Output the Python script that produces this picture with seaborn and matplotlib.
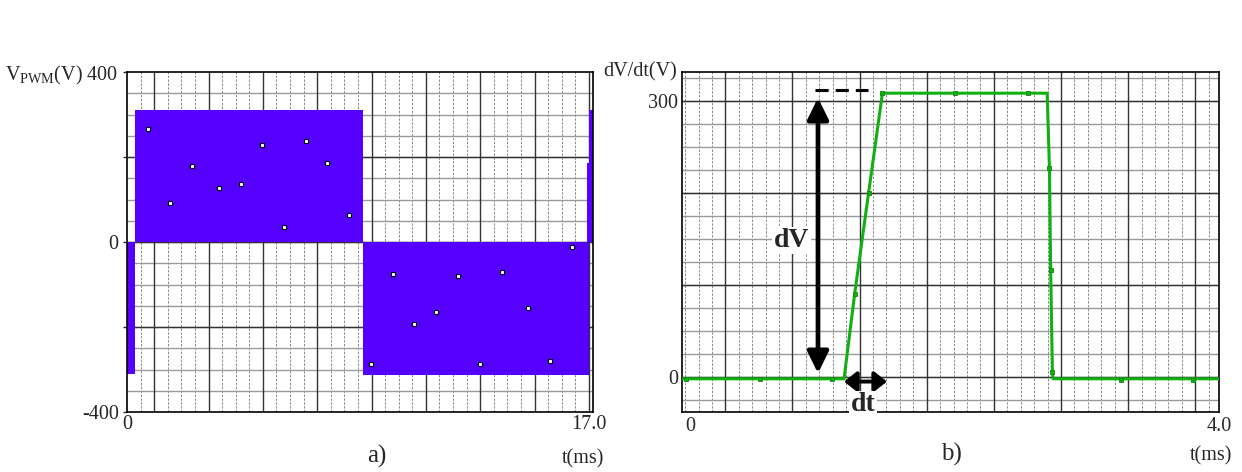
import numpy as np
import matplotlib
matplotlib.use("Agg")
import matplotlib.pyplot as plt
import seaborn as sns


# panel a) PWM output voltage, drawn as filled switching blocks (t in ms, V)
pwm_t_start = [0.0, 0.29, 8.67, 16.92, 16.99]
pwm_t_end = [0.29, 8.67, 16.99, 16.99, 17.15]
pwm_low = [-310, 0, -313, 0, 0]
pwm_high = [0, 310, 0, 186, 310]

# white simulation markers inside the PWM blocks
pwm_mark_t = [0.78, 1.58, 2.40, 3.39, 4.18, 4.96, 5.77, 6.58, 7.37, 8.17,
              8.98, 9.79, 10.57, 11.36, 12.18, 12.99, 13.79, 14.77, 15.58, 16.39]
pwm_mark_v = [266, 91, 180, 126, 136, 228, 35, 237, 185, 63,
              -286, -76, -194, -164, -80, -286, -70, -155, -279, -12]

# panel b) one switching edge
dvdt_t = [0.0, 1.207, 1.286, 1.39, 1.493, 2.72, 2.737, 2.746, 2.759, 2.764, 4.0]
dvdt_v = [-2, -2, 90, 200, 308, 308, 227, 116, 5, -2, -2]
dvdt_mark_t = [0.033, 0.579, 1.12, 1.286, 1.39, 1.493, 2.036, 2.575, 2.737, 2.746, 2.759, 3.268, 3.806]
dvdt_mark_v = [-2, -2, -2, 90, 200, 308, 308, 308, 227, 116, 5, -3, -3]

# annotation anchors in panel b)
dv_t, dv_from, dv_to = 1.013, 4, 303
dt_from, dt_to, dt_v = 1.207, 1.527, -5
dash_t0, dash_t1, dash_v = 0.988, 1.385, 311

BLUE = "#5500ff"
GREEN = "#11b011"

sns.set_style("white")
plt.rcParams["font.family"] = ["Liberation Serif", "DejaVu Serif"]
plt.rcParams["mathtext.fontset"] = "custom"
plt.rcParams["mathtext.rm"] = "Liberation Serif"
plt.rcParams["mathtext.it"] = "Liberation Serif:italic"


def draw_grid(ax, minor_x, major_x, minor_y, major_y, xlim, ylim):
	ax.vlines(minor_x, ylim[0], ylim[1], color="#8a8a8a", lw=0.7, linestyles=(0, (2.5, 1.5)), zorder=0)
	ax.hlines(minor_y, xlim[0], xlim[1], color="#999999", lw=1.0, zorder=0)
	ax.vlines(major_x, ylim[0], ylim[1], color="#333333", lw=1.0, zorder=0)
	ax.hlines(major_y, xlim[0], xlim[1], color="#333333", lw=1.0, zorder=0)
	ax.set_xlim(xlim)
	ax.set_ylim(ylim)
	for s in ax.spines.values():
		s.set_visible(True)
		s.set_color("black")
		s.set_linewidth(1.2)


fig = plt.figure(figsize=(12.42, 4.72), dpi=100)
ax1 = fig.add_axes([127 / 1242, 60 / 472, 466 / 1242, 340 / 472])
ax2 = fig.add_axes([682 / 1242, 60.5 / 472, 537 / 1242, 339.5 / 472])

# ---- panel a)
xl1, yl1 = (0, 17.15), (-400, 400)
draw_grid(ax1, np.arange(0.5, 17.15, 0.5), np.arange(1, 17.1, 2),
          np.arange(-350, 400, 50), [-200, 0, 200], xl1, yl1)

heights = np.subtract(pwm_high, pwm_low)
widths = np.subtract(pwm_t_end, pwm_t_start)
ax1.bar(pwm_t_start, heights, width=widths, bottom=pwm_low, align="edge",
        color=BLUE, linewidth=0, zorder=2)
sns.scatterplot(x=pwm_mark_t, y=pwm_mark_v, ax=ax1, marker="s", s=11,
                color="white", edgecolor="black", linewidth=0.8, zorder=3)

ax1.set_yticks([-400, -200, 0, 200, 400],
               ["-400", "", "0", "", r"V$_{\mathrm{PWM}}$(V) 400"])
ax1.tick_params(axis="y", length=3, width=1, pad=3, labelsize=14.5, direction="out", left=True)
ax1.set_xticks([])
ax1.text(0, -430, "0", ha="center", va="center", fontsize=14.5)
ax1.text(17.0, -430, "17.0", ha="center", va="center", fontsize=14.5)
ax1.text(17.55, -510, "t(ms)", ha="right", va="center", fontsize=14.5, clip_on=False)
ax1.text(9.2, -505, "a)", ha="center", va="center", fontsize=18)

# ---- panel b)
xl2, yl2 = (0, 4.0), (-37.5, 331)
draw_grid(ax2, np.arange(0.023, 4, 0.1), np.arange(0.323, 4, 0.5),
          np.arange(-25, 331, 25), [0, 100, 200, 300], xl2, yl2)

sns.lineplot(x=dvdt_t, y=dvdt_v, ax=ax2, color=GREEN, lw=2.2,
             estimator=None, sort=False, zorder=3)
sns.scatterplot(x=dvdt_mark_t, y=dvdt_mark_v, ax=ax2, marker="s", s=7,
                color=GREEN, edgecolor="#0a8a0a", linewidth=0.6, zorder=4)

ax2.set_yticks([0, 300], ["0", "300"])
ax2.tick_params(axis="y", length=0, pad=3, labelsize=14.5, left=True)
ax2.set_xticks([])
ax2.text(-0.01, 1.0, "dV/dt(V)", transform=ax2.transAxes, ha="right", va="center", fontsize=14.5)
ax2.text(0.063, -54, "0", ha="center", va="center", fontsize=14.5)
ax2.text(4.0, -54, "4.0", ha="center", va="center", fontsize=14.5)
ax2.text(4.1, -86, "t(ms)", ha="right", va="center", fontsize=14.5, clip_on=False)
ax2.text(2.01, -84, "b)", ha="center", va="center", fontsize=18)

# dV / dt markings
ax2.plot([dash_t0, dash_t1], [dash_v, dash_v], color="black", lw=2.2,
         ls=(0, (4.3, 2.3)), zorder=5)
ax2.annotate("", xy=(dv_t, dv_to), xytext=(dv_t, dv_from),
             arrowprops=dict(arrowstyle="<|-|>,head_length=0.65,head_width=0.32",
                             lw=3.4, color="black", shrinkA=0, shrinkB=0, mutation_scale=20),
             zorder=5)
ax2.annotate("", xy=(dt_to, dt_v), xytext=(dt_from, dt_v),
             arrowprops=dict(arrowstyle="<|-|>,head_length=0.38,head_width=0.3",
                             lw=2.8, color="black", shrinkA=0, shrinkB=0, mutation_scale=20),
             zorder=5)
ax2.text(0.815, 148, "dV", ha="center", va="center", fontsize=20, fontweight="bold",
         bbox=dict(facecolor="white", edgecolor="none", pad=1), zorder=5)
ax2.text(1.348, -30, "dt", ha="center", va="center", fontsize=20, fontweight="bold",
         bbox=dict(facecolor="white", edgecolor="none", pad=1), zorder=5, clip_on=False)

fig.savefig("out.png", dpi=100)
plt.close(fig)
